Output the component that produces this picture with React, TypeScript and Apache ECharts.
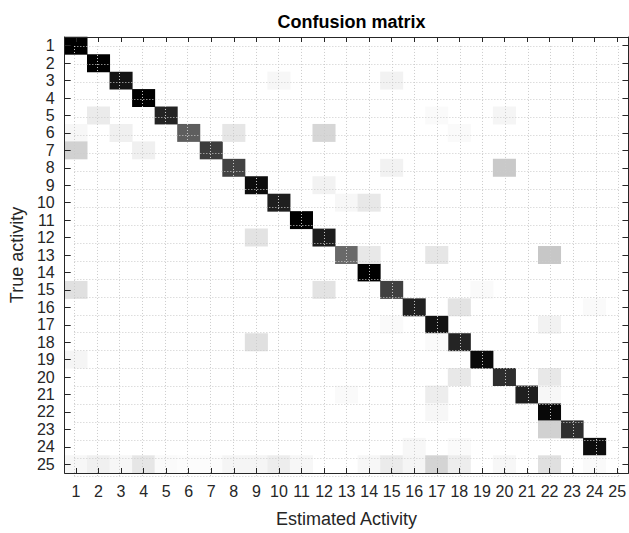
import React, { useEffect, useRef } from "react";
import * as echarts from "echarts";

const categories: string[] = Array.from({ length: 25 }, (_, i) => String(i + 1));

// Diagonal entries (true activity i estimated as i), percent
const diagonal: number[] = [
  100, 100, 92, 100, 86, 63, 76, 74, 95, 88, 100, 89, 59, 100, 75, 87, 93, 86, 96, 82, 88, 97, 82, 95, 0,
];

// Off-diagonal entries: [true activity, estimated activity, percent]
const offDiagonal: [number, number, number][] = [
  [3, 10, 3], [3, 15, 5],
  [5, 2, 8], [5, 17, 2], [5, 20, 4],
  [6, 1, 3], [6, 3, 6], [6, 8, 10], [6, 12, 16], [6, 18, 2],
  [7, 1, 18], [7, 4, 6],
  [8, 15, 5], [8, 20, 21],
  [9, 12, 5],
  [10, 13, 3], [10, 14, 9],
  [12, 9, 11],
  [13, 14, 9], [13, 17, 10], [13, 22, 22],
  [15, 1, 12], [15, 12, 11], [15, 19, 2],
  [16, 18, 11], [16, 24, 2],
  [17, 15, 2], [17, 22, 5],
  [18, 9, 12], [18, 17, 2],
  [19, 1, 4],
  [20, 18, 9], [20, 22, 9],
  [21, 13, 2], [21, 17, 7], [21, 22, 3],
  [22, 17, 3],
  [23, 22, 18],
  [24, 16, 3], [24, 18, 2],
  [25, 1, 3], [25, 2, 6], [25, 3, 3], [25, 4, 10], [25, 5, 2], [25, 6, 1], [25, 7, 1],
  [25, 8, 4], [25, 9, 4], [25, 10, 7], [25, 11, 3], [25, 14, 3], [25, 15, 8], [25, 16, 4],
  [25, 17, 17], [25, 18, 7], [25, 20, 3], [25, 22, 12], [25, 24, 2],
];

const FONT = "'Liberation Sans', Arial, Helvetica, sans-serif";
const AX = "#262626";

export default function App() {
  const ref = useRef<HTMLDivElement>(null);
  useEffect(() => {
    if (!ref.current) return;
    const chart = echarts.init(ref.current, undefined, { renderer: "svg" });

    const data: [number, number, number][] = [];
    diagonal.forEach((v, i) => data.push([i, i, v]));
    offDiagonal.forEach(([t, e, v]) => data.push([e - 1, t - 1, v]));

    const G = { left: 63, top: 37, width: 567, height: 448 };
    const cw = G.width / 25;
    const ch = G.height / 25;
    const G2 = {
      left: G.left + cw / 2,
      top: G.top + ch / 2,
      width: cw * 24,
      height: ch * 24,
    };

    const frameX = (pos: "bottom" | "top", labels: boolean) => ({
      type: "category",
      gridIndex: 0,
      data: categories,
      position: pos,
      z: 5,
      axisLine: { show: true, lineStyle: { color: AX, width: 1 } },
      axisTick: { show: true, inside: true, alignWithLabel: true, length: 5, lineStyle: { color: AX } },
      axisLabel: labels
        ? { show: true, color: AX, fontSize: 16, fontFamily: FONT, margin: 10, interval: 0 }
        : { show: false },
      splitLine: { show: false },
      ...(labels
        ? {
            name: "Estimated Activity",
            nameLocation: "middle",
            nameGap: 37,
            nameTextStyle: { color: AX, fontSize: 18, fontFamily: FONT },
          }
        : {}),
    });
    const frameY = (pos: "left" | "right", labels: boolean) => ({
      type: "category",
      gridIndex: 0,
      data: categories,
      inverse: true,
      position: pos,
      z: 5,
      axisLine: { show: true, lineStyle: { color: AX, width: 1 } },
      axisTick: { show: true, inside: true, alignWithLabel: true, length: 6, lineStyle: { color: AX } },
      axisLabel: labels
        ? { show: true, color: AX, fontSize: 16, fontFamily: FONT, margin: 10, interval: 0 }
        : { show: false },
      splitLine: { show: false },
      ...(labels
        ? {
            name: "True activity",
            nameLocation: "middle",
            nameGap: 29,
            nameRotate: 90,
            nameTextStyle: { color: AX, fontSize: 18, fontFamily: FONT },
          }
        : {}),
    });
    const gridAxis = () => ({
      type: "value",
      gridIndex: 1,
      min: 1,
      max: 25,
      interval: 1,
      z: 4,
      axisLine: { show: false },
      axisTick: { show: false },
      axisLabel: { show: false },
      splitLine: { show: true, lineStyle: { color: "#cccccc", width: 1, type: [1, 2] } },
    });

    chart.setOption({
      animation: false,
      backgroundColor: "#ffffff",
      title: {
        text: "Confusion matrix",
        left: G.left + G.width / 2,
        textAlign: "center",
        top: 8,
        textStyle: { color: "#000000", fontSize: 18, fontWeight: "bold", fontFamily: FONT },
      },
      grid: [
        { left: G.left, top: G.top, width: G.width, height: G.height, containLabel: false },
        { left: G2.left, top: G2.top, width: G2.width, height: G2.height, containLabel: false },
      ],
      xAxis: [frameX("bottom", true), frameX("top", false), gridAxis()],
      yAxis: [frameY("left", true), frameY("right", false), gridAxis()],
      visualMap: {
        type: "continuous",
        show: false,
        min: 0,
        max: 100,
        seriesIndex: 0,
        inRange: { color: ["#ffffff", "#000000"] },
      },
      series: [
        {
          type: "heatmap",
          xAxisIndex: 0,
          yAxisIndex: 0,
          data,
          silent: true,
          z: 2,
          emphasis: { disabled: true },
        },
      ],
    });
    return () => chart.dispose();
  }, []);
  return (
    <div
      ref={ref}
      style={{ position: "absolute", left: 0, top: 0, width: 629, height: 533, background: "#fff" }}
    />
  );
}
